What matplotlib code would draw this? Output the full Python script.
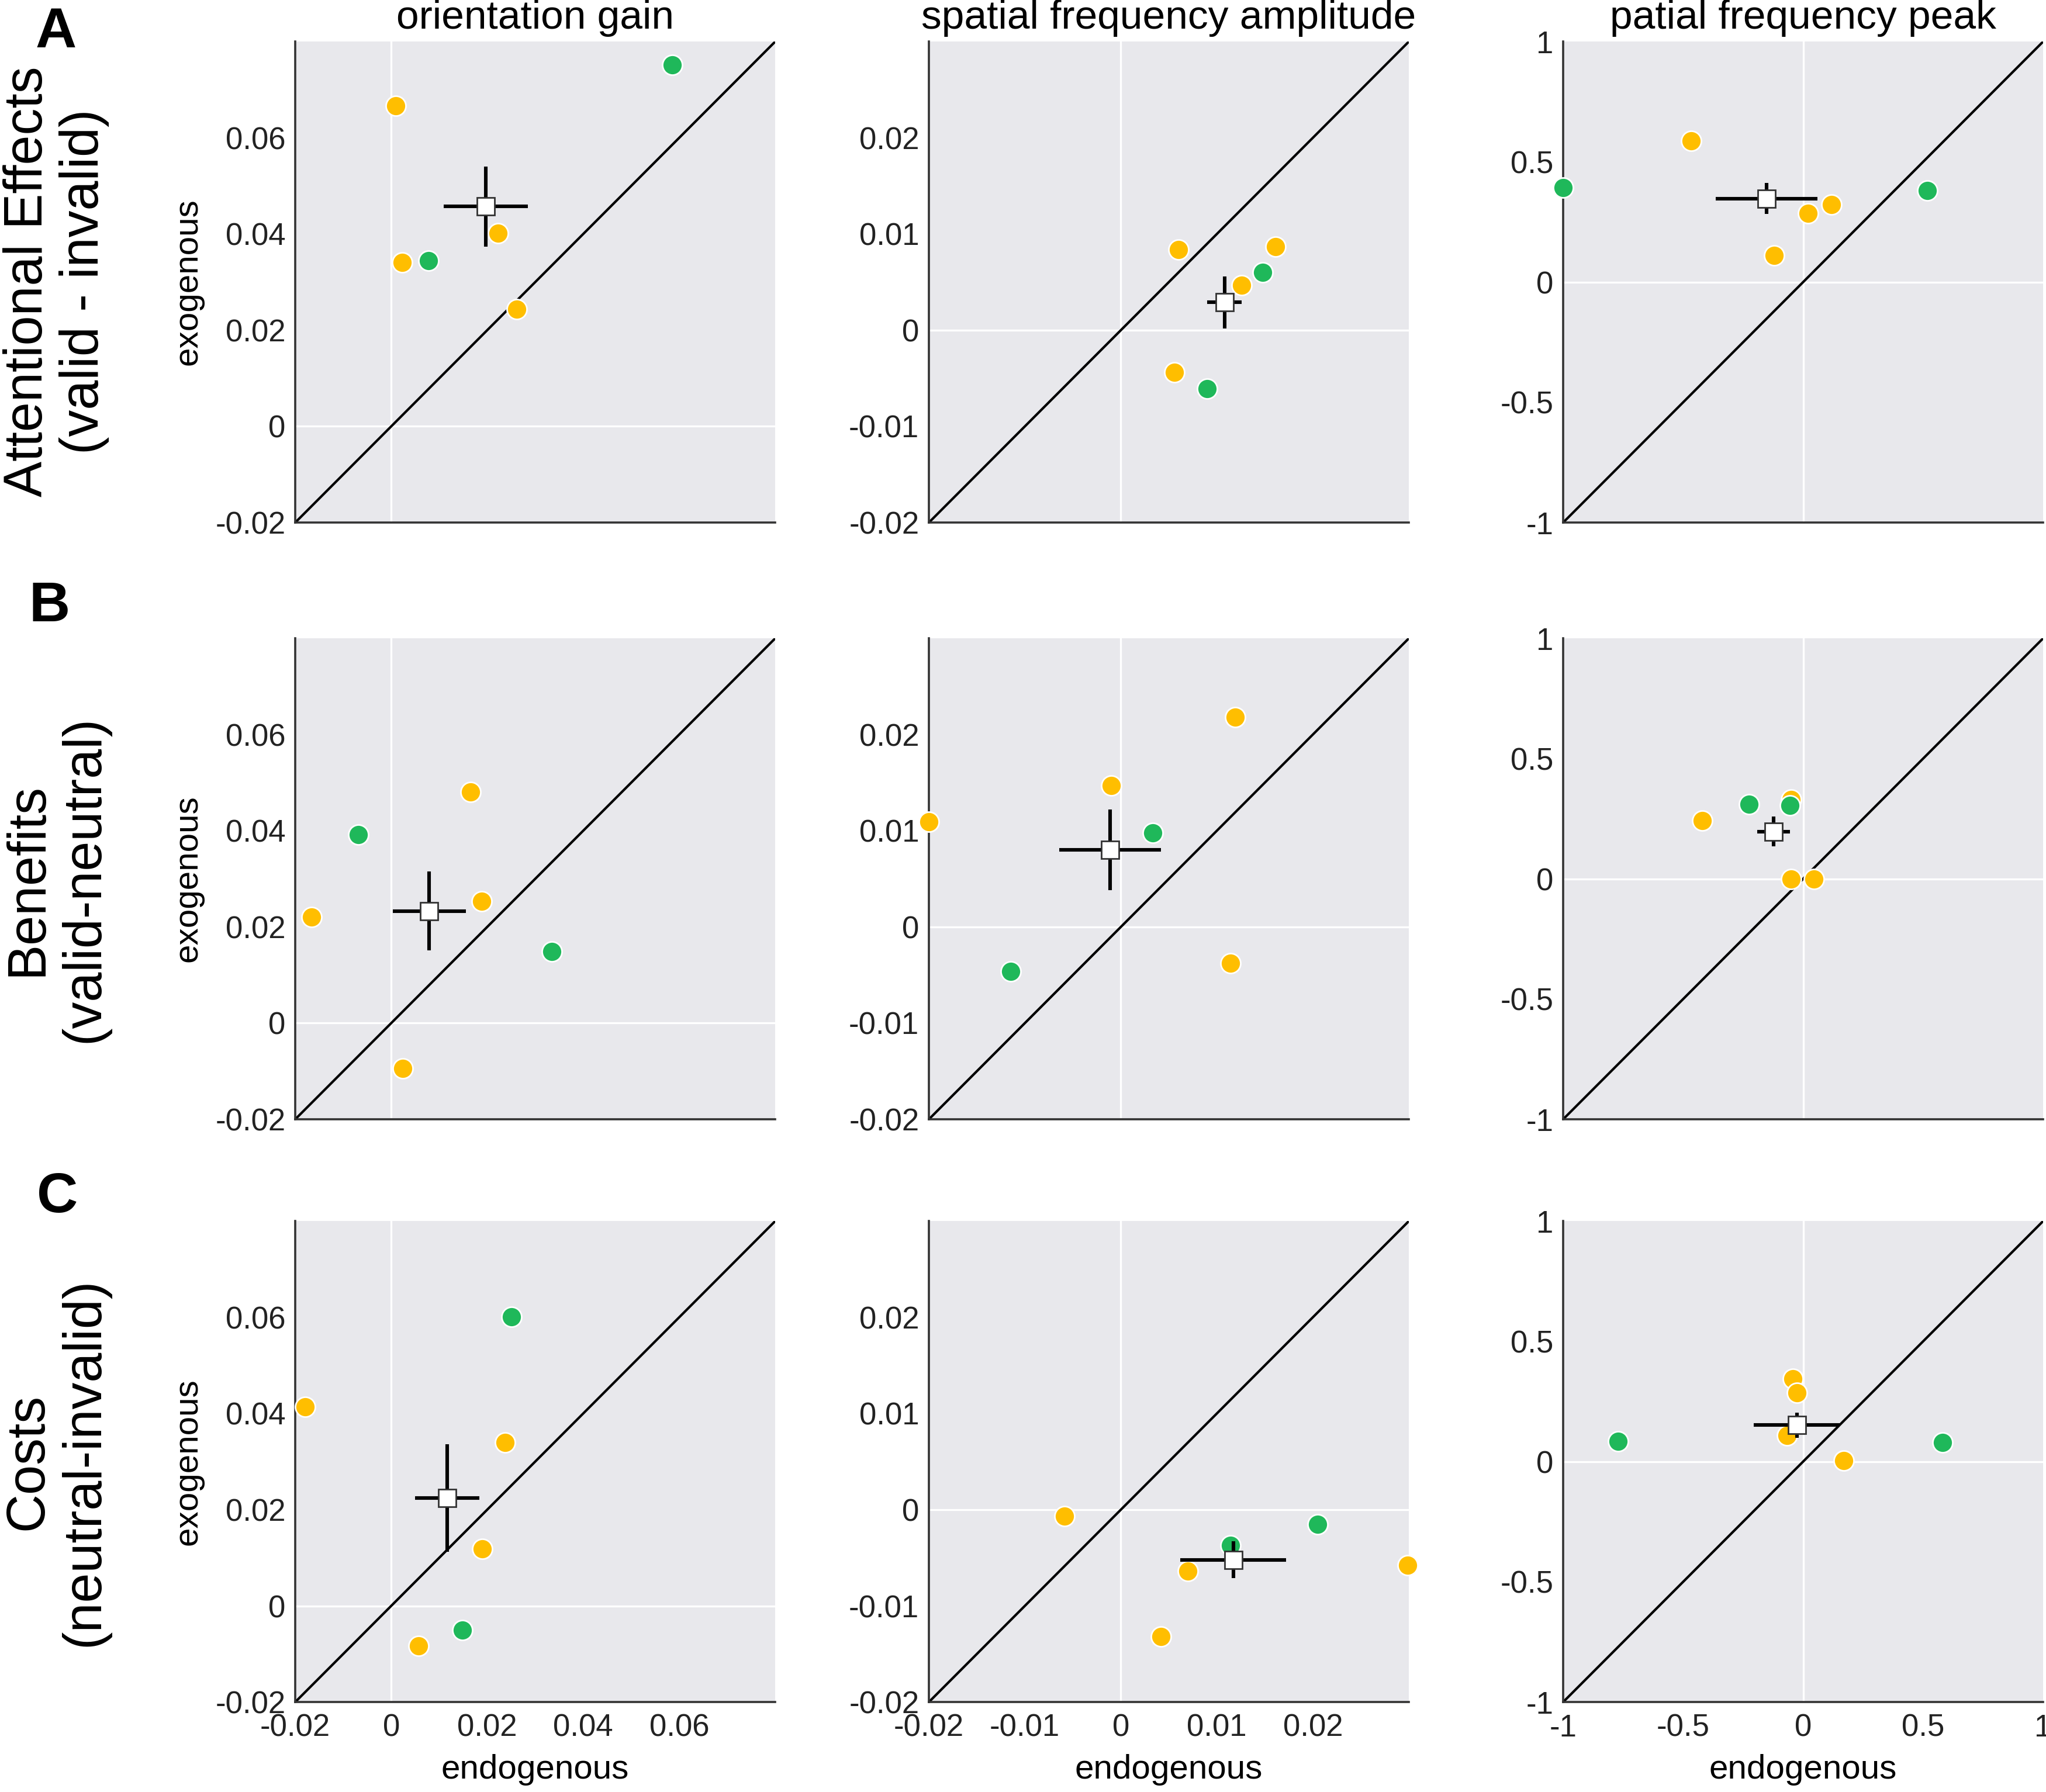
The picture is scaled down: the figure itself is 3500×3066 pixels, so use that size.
"""
Endogenous vs exogenous attention effects: 3x3 grid of scatter panels
(rows = effect type, columns = tuning parameter).
"""

import matplotlib
matplotlib.use("Agg")
import matplotlib.pyplot as plt

plt.rcParams["font.family"] = ["Liberation Sans", "DejaVu Sans"]

# --- data ---
# row A: attentional effects (valid - invalid)
A_ori_yel_x = [0.0010, 0.0223, 0.0023, 0.0262]
A_ori_yel_y = [0.0667, 0.0401, 0.0341, 0.0244]
A_ori_grn_x = [0.0585, 0.0078]
A_ori_grn_y = [0.0752, 0.0344]
A_ori_mean = [0.0197, 0.0457]
A_ori_err = [0.0088, 0.0083]

A_amp_yel_x = [0.0060, 0.0161, 0.0126, 0.0056]
A_amp_yel_y = [0.0084, 0.0087, 0.0047, -0.0044]
A_amp_grn_x = [0.0148, 0.0090]
A_amp_grn_y = [0.0060, -0.0061]
A_amp_mean = [0.0108, 0.0029]
A_amp_err = [0.0018, 0.0027]

A_peak_yel_x = [-0.466, 0.117, 0.020, -0.120]
A_peak_yel_y = [0.587, 0.322, 0.285, 0.112]
A_peak_grn_x = [-1.000, 0.518]
A_peak_grn_y = [0.392, 0.381]
A_peak_mean = [-0.153, 0.347]
A_peak_err = [0.212, 0.064]

# row B: benefits (valid - neutral)
B_ori_yel_x = [0.0165, 0.0188, -0.0166, 0.0024]
B_ori_yel_y = [0.0480, 0.0253, 0.0220, -0.0094]
B_ori_grn_x = [-0.0069, 0.0335]
B_ori_grn_y = [0.0392, 0.0149]
B_ori_mean = [0.0079, 0.0233]
B_ori_err = [0.0076, 0.0082]

B_amp_yel_x = [0.0119, -0.0010, -0.0200, 0.0114]
B_amp_yel_y = [0.0218, 0.0147, 0.0109, -0.0038]
B_amp_grn_x = [0.0033, -0.0115]
B_amp_grn_y = [0.0098, -0.0046]
B_amp_mean = [-0.0011, 0.0080]
B_amp_err = [0.0053, 0.0042]

B_peak_yel_x = [-0.420, -0.050, -0.049, 0.046]
B_peak_yel_y = [0.241, 0.330, 0.000, 0.000]
B_peak_grn_x = [-0.225, -0.055]
B_peak_grn_y = [0.311, 0.305]
B_peak_mean = [-0.124, 0.197]
B_peak_err = [0.068, 0.062]

# row C: costs (neutral - invalid)
C_ori_yel_x = [-0.0179, 0.0237, 0.0190, 0.0057]
C_ori_yel_y = [0.0414, 0.0340, 0.0119, -0.0083]
C_ori_grn_x = [0.0250, 0.0148]
C_ori_grn_y = [0.0601, -0.0050]
C_ori_mean = [0.0117, 0.0224]
C_ori_err = [0.0067, 0.0112]

C_amp_yel_x = [-0.0059, 0.0070, 0.0299, 0.0042]
C_amp_yel_y = [-0.0007, -0.0064, -0.0058, -0.0132]
C_amp_grn_x = [0.0205, 0.0114]
C_amp_grn_y = [-0.0015, -0.0037]
C_amp_mean = [0.0117, -0.0052]
C_amp_err = [0.0055, 0.0019]

C_peak_yel_x = [-0.042, -0.026, -0.068, 0.169]
C_peak_yel_y = [0.344, 0.286, 0.108, 0.005]
C_peak_grn_x = [-0.772, 0.580]
C_peak_grn_y = [0.083, 0.079]
C_peak_mean = [-0.026, 0.151]
C_peak_err = [0.179, 0.053]

col_titles = ["orientation gain", "spatial frequency amplitude", "patial frequency peak"]
row_labels = ["Attentional Effects\n(valid - invalid)",
              "Benefits\n(valid-neutral)",
              "Costs\n(neutral-invalid)"]
panel_letters = ["A", "B", "C"]

col_limits = [(-0.02, 0.08), (-0.02, 0.03), (-1, 1)]
col_ticks = [[-0.02, 0, 0.02, 0.04, 0.06],
             [-0.02, -0.01, 0, 0.01, 0.02],
             [-1, -0.5, 0, 0.5, 1]]
col_ticklabels = [["-0.02", "0", "0.02", "0.04", "0.06"],
                  ["-0.02", "-0.01", "0", "0.01", "0.02"],
                  ["-1", "-0.5", "0", "0.5", "1"]]

YELLOW = "#FFBE00"
GREEN = "#1FB85A"
BG = "#E8E8EC"

panels = [
    [(A_ori_yel_x, A_ori_yel_y, A_ori_grn_x, A_ori_grn_y, A_ori_mean, A_ori_err),
     (A_amp_yel_x, A_amp_yel_y, A_amp_grn_x, A_amp_grn_y, A_amp_mean, A_amp_err),
     (A_peak_yel_x, A_peak_yel_y, A_peak_grn_x, A_peak_grn_y, A_peak_mean, A_peak_err)],
    [(B_ori_yel_x, B_ori_yel_y, B_ori_grn_x, B_ori_grn_y, B_ori_mean, B_ori_err),
     (B_amp_yel_x, B_amp_yel_y, B_amp_grn_x, B_amp_grn_y, B_amp_mean, B_amp_err),
     (B_peak_yel_x, B_peak_yel_y, B_peak_grn_x, B_peak_grn_y, B_peak_mean, B_peak_err)],
    [(C_ori_yel_x, C_ori_yel_y, C_ori_grn_x, C_ori_grn_y, C_ori_mean, C_ori_err),
     (C_amp_yel_x, C_amp_yel_y, C_amp_grn_x, C_amp_grn_y, C_amp_mean, C_amp_err),
     (C_peak_yel_x, C_peak_yel_y, C_peak_grn_x, C_peak_grn_y, C_peak_mean, C_peak_err)],
]

# --- layout (figure fractions) ---
col_left = [0.1443, 0.4540, 0.7640]
row_bottom = [0.7084, 0.3754, 0.0502]
ax_w, ax_h = 0.2346, 0.2684
row_center = [0.843, 0.5094, 0.1843]
letter_pos = [(0.0274, 0.9817), (0.0243, 0.6614), (0.0280, 0.3317)]

fig = plt.figure(figsize=(17.5, 15.33), dpi=200)

for r in range(3):
    for c in range(3):
        yx, yy, gx, gy, mean, err = panels[r][c]
        lo, hi = col_limits[c]
        ax = fig.add_axes([col_left[c], row_bottom[r], ax_w, ax_h])
        ax.set_facecolor(BG)

        # zero lines + identity line
        ax.axhline(0, color="white", lw=1.2, zorder=1)
        ax.axvline(0, color="white", lw=1.2, zorder=1)
        ax.plot([lo, hi], [lo, hi], color="black", lw=1.5, zorder=2)

        ax.scatter(yx, yy, s=150, c=YELLOW, edgecolors="white", linewidths=1,
                   zorder=3, clip_on=False)
        ax.scatter(gx, gy, s=150, c=GREEN, edgecolors="white", linewidths=1,
                   zorder=3, clip_on=False)
        ax.errorbar(mean[0], mean[1], xerr=err[0], yerr=err[1], fmt="s",
                    mfc="white", mec="#333333", mew=1.0, ms=11,
                    ecolor="black", elinewidth=2.2, capsize=0, zorder=4)

        ax.set_xlim(lo, hi)
        ax.set_ylim(lo, hi)
        ax.set_xticks(col_ticks[c])
        ax.set_yticks(col_ticks[c])
        ax.set_yticklabels(col_ticklabels[c])
        if r == 2:
            ax.set_xticklabels(col_ticklabels[c])
            ax.set_xlabel("endogenous", fontsize=21)
            ax.xaxis.set_label_coords(0.5, -0.108)
        else:
            ax.set_xticklabels([])
        ax.tick_params(length=0, labelsize=19, pad=7, colors="#222222")
        ax.tick_params(axis="y", pad=6)

        for side in ["top", "right"]:
            ax.spines[side].set_visible(False)
        for side in ["left", "bottom"]:
            ax.spines[side].set_color("#333333")
            ax.spines[side].set_linewidth(1.3)

        if c == 0:
            ax.set_ylabel("exogenous", fontsize=21)
            ax.yaxis.set_label_coords(-0.191, 0.5)
        if r == 0:
            ax.set_title(col_titles[c], fontsize=25, pad=8)

for r in range(3):
    fig.text(0.0274, row_center[r], row_labels[r], rotation=90, ha="center",
             va="center", fontsize=33, linespacing=1.15)
    fig.text(letter_pos[r][0], letter_pos[r][1], panel_letters[r], ha="center",
             va="center", fontsize=35, fontweight="bold")

fig.savefig("out.png", dpi=200)
